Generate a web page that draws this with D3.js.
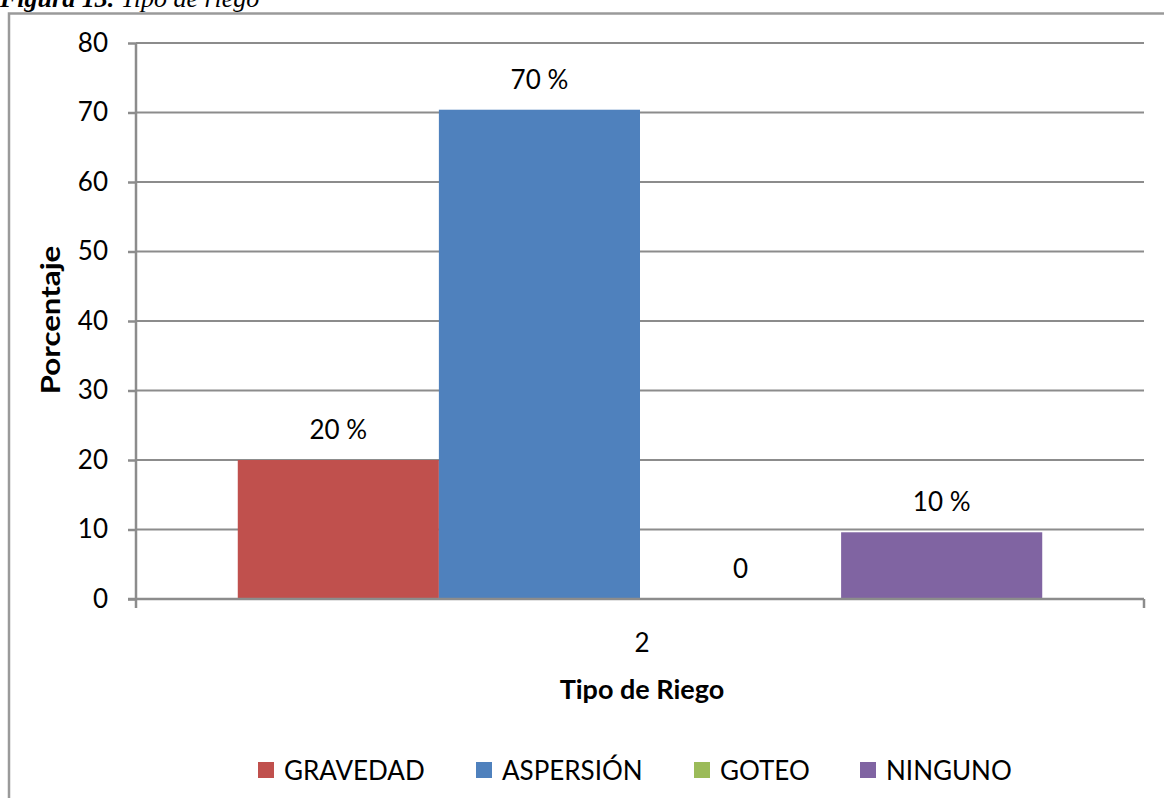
<!DOCTYPE html>
<html>
<head>
<meta charset="utf-8">
<script src="https://cdn.jsdelivr.net/npm/d3@7"></script>
<style>
  body { margin: 0; background: #fff; }
  svg { display: block; }
  text { font-family: Lato, "Open Sans", sans-serif; fill: #000; }
</style>
</head>
<body>
<div id="viz"></div>
<script>
var categories = ['GRAVEDAD', 'ASPERSIÓN', 'GOTEO', 'NINGUNO'];
var values = [20, 70.4, 0, 9.6];
var valueLabels = ['20 %', '70 %', '0', '10 %'];
var colorList = ['#c0504d', '#4f81bd', '#9bbb59', '#8064a2'];
var yTicks = [0, 10, 20, 30, 40, 50, 60, 70, 80];
var groupLabel = '2';

var width = 1164,
    height = 798,
    plotLeft = 136,
    plotRight = 1144,
    plotTop = 43,
    plotBottom = 599;

var svg = d3.select('#viz').append('svg')
    .attr('width', width)
    .attr('height', height);

// caption, cut at the top of the page
var cap = svg.append('text')
    .attr('x', 0)
    .attr('y', 7)
    .style('font-family', '"Liberation Serif", "DejaVu Serif", serif')
    .style('font-size', '26px')
    .style('font-style', 'italic');
cap.append('tspan').style('font-weight', 'bold').text('Figura 13.');
cap.append('tspan').text(' Tipo de riego');

// chart area border
svg.append('path')
    .attr('d', 'M9,' + height + 'V13.5H' + width)
    .attr('fill', 'none')
    .attr('stroke', '#9a9a9a')
    .attr('stroke-width', 2.5);

var yScale = d3.scaleLinear()
    .domain([0, 80])
    .range([plotBottom, plotTop]);

var xScale = d3.scaleBand()
    .domain(categories)
    .range([plotLeft, plotRight])
    .paddingInner(0)
    .paddingOuter(0.506);

var colors = d3.scaleOrdinal()
    .domain(categories)
    .range(colorList);

// gridlines
svg.append('g').selectAll('line')
    .data(yTicks.filter(function(d) { return d > 0; }))
    .enter().append('line')
    .attr('x1', plotLeft)
    .attr('x2', plotRight)
    .attr('y1', function(d) { return yScale(d); })
    .attr('y2', function(d) { return yScale(d); })
    .attr('stroke', '#8c8c8c')
    .attr('stroke-width', 2);

// bars
svg.append('g').selectAll('rect')
    .data(values)
    .enter().append('rect')
    .attr('x', function(d, i) { return xScale(categories[i]); })
    .attr('width', xScale.bandwidth())
    .attr('y', function(d) { return yScale(d); })
    .attr('height', function(d) { return yScale(0) - yScale(d); })
    .attr('fill', function(d, i) { return colors(categories[i]); });

// y axis
var yAxis = d3.axisLeft(yScale)
    .tickValues(yTicks)
    .tickSize(8)
    .tickPadding(20);

var yg = svg.append('g')
    .attr('transform', 'translate(' + plotLeft + ',0)')
    .call(yAxis);
yg.select('.domain').remove();
yg.append('line')
    .attr('y1', plotTop)
    .attr('y2', plotBottom + 9)
    .attr('stroke', '#8c8c8c')
    .attr('stroke-width', 2.5);
yg.selectAll('.tick line')
    .attr('stroke', '#8c8c8c')
    .attr('stroke-width', 2.5);
yg.selectAll('.tick text')
    .style('font-size', '26px')
    .style('font-family', 'Lato, sans-serif')
    .attr('fill', '#000');

// x axis
svg.append('line')
    .attr('x1', plotLeft - 8)
    .attr('x2', plotRight)
    .attr('y1', plotBottom)
    .attr('y2', plotBottom)
    .attr('stroke', '#8c8c8c')
    .attr('stroke-width', 2.5);
svg.append('line')
    .attr('x1', plotRight)
    .attr('x2', plotRight)
    .attr('y1', plotBottom)
    .attr('y2', plotBottom + 9)
    .attr('stroke', '#8c8c8c')
    .attr('stroke-width', 2.5);

var mid = xScale(categories[0]) + (xScale(categories[3]) + xScale.bandwidth() - xScale(categories[0])) / 2;
svg.append('text')
    .attr('x', mid + 2)
    .attr('y', 652)
    .attr('text-anchor', 'middle')
    .style('font-size', '26px')
    .text(groupLabel);

svg.append('text')
    .attr('x', mid + 2)
    .attr('y', 699)
    .attr('text-anchor', 'middle')
    .style('font-size', '27px')
    .style('font-weight', 'bold')
    .text('Tipo de Riego');

svg.append('text')
    .attr('transform', 'translate(60,320) rotate(-90) scale(1.2,1)')
    .attr('text-anchor', 'middle')
    .style('font-size', '26px')
    .style('font-weight', 'bold')
    .text('Porcentaje');

// value labels
svg.append('g').selectAll('text')
    .data(values)
    .enter().append('text')
    .attr('x', function(d, i) { return xScale(categories[i]) + xScale.bandwidth() / 2; })
    .attr('y', function(d) { return yScale(d) - 21; })
    .attr('text-anchor', 'middle')
    .style('font-size', '26px')
    .text(function(d, i) { return valueLabels[i]; });

// legend
var legendX = [258, 476, 694, 860];
var legend = svg.append('g').selectAll('g')
    .data(categories)
    .enter().append('g')
    .attr('transform', function(d, i) { return 'translate(' + legendX[i] + ',762)'; });
legend.append('rect')
    .attr('width', 16)
    .attr('height', 16)
    .attr('fill', function(d) { return colors(d); });
legend.append('text')
    .attr('x', 26)
    .attr('y', 18)
    .style('font-size', '26px')
    .text(function(d) { return d; });
</script>
</body>
</html>
